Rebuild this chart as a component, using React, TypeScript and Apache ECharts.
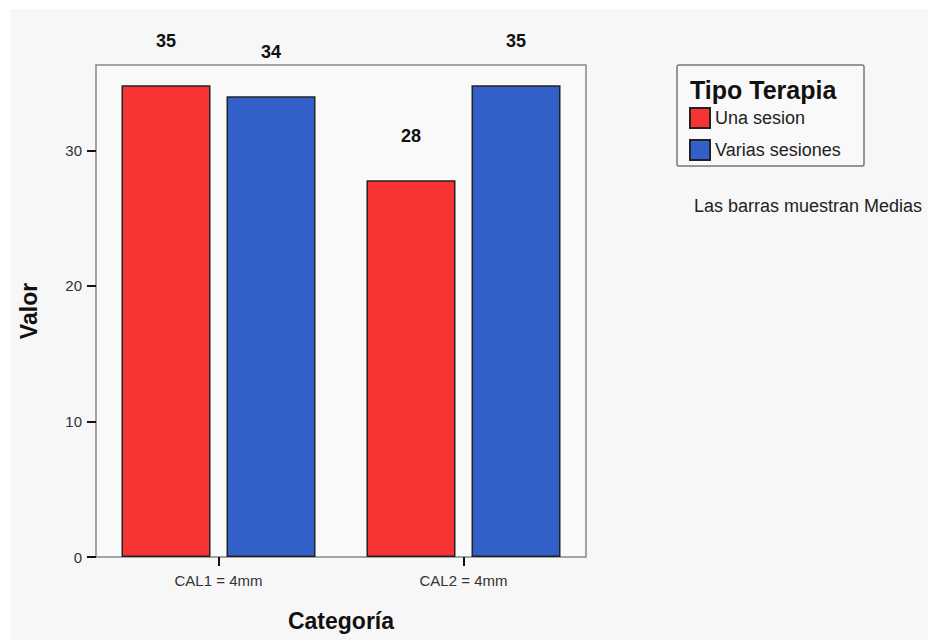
import React, { useEffect, useRef } from "react";
import * as echarts from "echarts";

const categories = ["CAL1 = 4mm", "CAL2 = 4mm"];
const seriesNames = ["Una sesion", "Varias sesiones"];
const unaSesion = [34.8, 27.8];
const variasSesiones = [34.0, 34.8];
const yTicks = [0, 10, 20, 30];

const RED = "#f83333";
const BLUE = "#3360c8";
const FONT = "Liberation Sans, Arial, sans-serif";

export default function App() {
  const ref = useRef<HTMLDivElement>(null);
  useEffect(() => {
    document.body.style.margin = "0";
    const chart = echarts.init(ref.current!, null, { renderer: "svg" });
    const labelStyle = {
      show: true,
      position: "top" as const,
      distance: 35,
      fontFamily: FONT,
      fontWeight: "bold" as const,
      fontSize: 18,
      color: "#111",
      formatter: (p: any) => Math.round(p.value).toString(),
    };
    chart.setOption({
      animation: false,
      backgroundColor: "#ffffff",
      textStyle: { fontFamily: FONT },
      graphic: [
        {
          type: "rect",
          z: -10,
          silent: true,
          shape: { x: 10, y: 9, width: 918, height: 631 },
          style: { fill: "#f7f7f7" },
        },
        {
          type: "rect",
          z: 1,
          silent: true,
          shape: { x: 677, y: 65, width: 187, height: 101, r: 2 },
          style: { fill: "#f9f9f9", stroke: "#777", lineWidth: 1.5 },
        },
        {
          type: "text",
          z: 5,
          x: 690,
          y: 90,
          style: {
            text: "Tipo Terapia",
            fontFamily: FONT,
            fontWeight: "bold",
            fontSize: 25,
            fill: "#111",
            verticalAlign: "middle",
          },
        },
        {
          type: "text",
          x: 694,
          y: 206,
          style: {
            text: "Las barras muestran Medias",
            fontFamily: FONT,
            fontSize: 18,
            fill: "#222",
            verticalAlign: "middle",
          },
        },
        {
          type: "text",
          x: 29,
          y: 311,
          rotation: Math.PI / 2,
          style: {
            text: "Valor",
            fontFamily: FONT,
            fontWeight: "bold",
            fontSize: 23,
            fill: "#111",
            align: "center",
            verticalAlign: "middle",
          },
        },
        {
          type: "text",
          x: 341,
          y: 621,
          style: {
            text: "Categoría",
            fontFamily: FONT,
            fontWeight: "bold",
            fontSize: 23,
            fill: "#111",
            align: "center",
            verticalAlign: "middle",
          },
        },
      ],
      legend: {
        orient: "vertical",
        left: 689,
        top: 107,
        padding: 0,
        itemWidth: 20,
        itemHeight: 20,
        itemGap: 10,
        icon: "rect",
        z: 6,
        data: seriesNames,
        textStyle: {
          fontFamily: FONT,
          fontSize: 18,
          color: "#222",
          padding: [0, 0, 0, 0],
        },
      },
      grid: {
        left: 96,
        right: 342,
        top: 65,
        bottom: 83,
        show: true,
        borderColor: "#888",
        borderWidth: 1.5,
        backgroundColor: "#f9f9f9",
      },
      xAxis: {
        type: "category",
        data: categories,
        axisLine: { show: false },
        axisTick: {
          show: true,
          alignWithLabel: true,
          length: 9,
          lineStyle: { color: "#111", width: 2 },
        },
        axisLabel: {
          fontSize: 15,
          color: "#333",
          margin: 16,
        },
      },
      yAxis: {
        type: "value",
        min: 0,
        max: 36.3,
        interval: 10,
        axisLine: { show: false },
        splitLine: { show: false },
        axisTick: {
          show: true,
          length: 9,
          customValues: yTicks,
          lineStyle: { color: "#111", width: 2 },
        },
        axisLabel: {
          fontSize: 15,
          color: "#333",
          margin: 14,
          customValues: yTicks,
        },
      },
      series: [
        {
          name: seriesNames[0],
          type: "bar",
          data: unaSesion,
          barWidth: 89,
          barGap: "18%",
          itemStyle: { color: RED, borderColor: "#222", borderWidth: 1.5 },
          label: labelStyle,
        },
        {
          name: seriesNames[1],
          type: "bar",
          data: variasSesiones,
          barWidth: 89,
          barGap: "18%",
          itemStyle: { color: BLUE, borderColor: "#222", borderWidth: 1.5 },
          label: labelStyle,
        },
      ],
    });
    return () => chart.dispose();
  }, []);
  return <div ref={ref} style={{ width: 928, height: 640 }} />;
}
